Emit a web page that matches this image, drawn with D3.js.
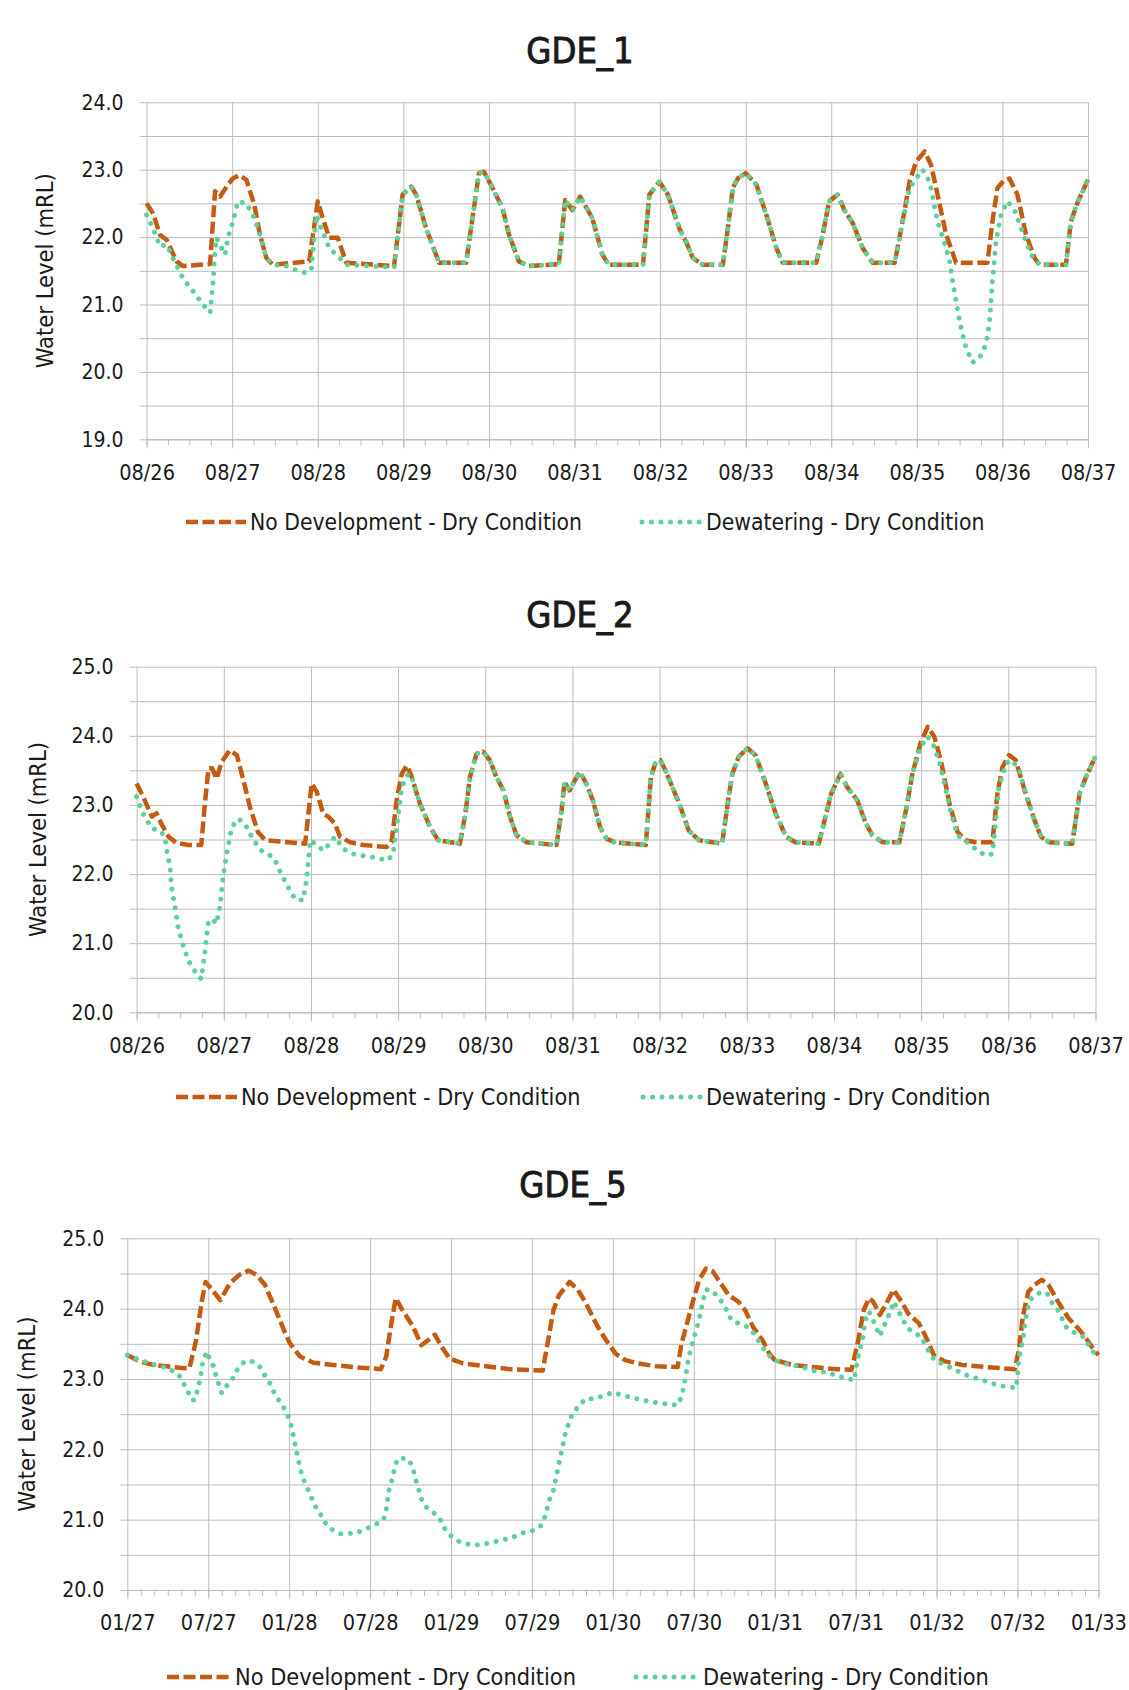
<!DOCTYPE html>
<html>
<head>
<meta charset="utf-8">
<script src="https://cdn.jsdelivr.net/npm/d3@7"></script>
<style>
  body { margin: 0; background: #fff; }
  svg text { font-family: "DejaVu Sans Condensed", "Liberation Sans", Arial, sans-serif; fill: #1a1a1a; }
</style>
</head>
<body>
<svg id="chart" width="1129" height="1690"></svg>
<script>
// x values are months since the first axis label, y values are water level (mRL)
const gde1Labels = ["08/26","08/27","08/28","08/29","08/30","08/31","08/32","08/33","08/34","08/35","08/36","08/37"];
const gde2Labels = gde1Labels;
const gde5Labels = ["01/27","07/27","01/28","07/28","01/29","07/29","01/30","07/30","01/31","07/31","01/32","07/32","01/33"];

const gde1NoDev = [[0,22.5],[0.9,22.35],[1.9,22.03],[2.8,21.96],[4.2,21.64],[5.1,21.57],[8.9,21.6],[9.6,22.68],[10.3,22.6],[11.4,22.78],[12.1,22.87],[13.0,22.92],[14.0,22.85],[15.1,22.48],[15.9,22.03],[16.8,21.69],[17.7,21.59],[22.8,21.64],[24.0,22.53],[24.7,22.28],[25.6,21.99],[26.8,21.99],[28.0,21.62],[34.7,21.57],[35.9,22.63],[37.1,22.75],[37.8,22.63],[39.2,22.13],[41.0,21.62],[44.8,21.62],[46.6,22.95],[47.3,22.97],[48.5,22.73],[49.9,22.43],[50.8,22.04],[52.2,21.64],[53.6,21.57],[57.8,21.6],[58.7,22.55],[59.7,22.4],[60.8,22.6],[62.5,22.28],[63.9,21.74],[64.8,21.59],[69.6,21.59],[70.5,22.63],[71.9,22.82],[73.1,22.63],[74.7,22.13],[75.6,21.94],[76.6,21.69],[78.0,21.59],[80.8,21.59],[81.5,22.13],[82.2,22.73],[82.9,22.87],[84.0,22.95],[85.5,22.78],[86.9,22.33],[88.3,21.84],[89.2,21.62],[93.9,21.62],[94.8,22.03],[95.7,22.53],[96.9,22.63],[97.8,22.41],[99.0,22.21],[100.4,21.84],[101.8,21.62],[104.9,21.62],[106.0,22.23],[107.0,22.83],[107.9,23.12],[109.1,23.27],[110.0,23.07],[110.9,22.63],[112.1,22.04],[113.5,21.62],[117.9,21.62],[118.6,22.23],[119.3,22.73],[120.3,22.85],[121.0,22.87],[122.1,22.63],[123.3,22.04],[124.5,21.69],[125.2,21.59],[128.9,21.59],[129.6,22.23],[130.6,22.53],[132,22.85]];

const gde1Dewater = [[0,22.33],[0.9,22.13],[1.9,21.86],[2.8,21.89],[3.7,21.69],[5.1,21.39],[6.5,21.2],[7.9,21.0],[8.9,20.88],[9.3,21.3],[9.6,21.79],[9.8,21.99],[10.5,21.84],[11.0,21.74],[11.4,21.99],[12.1,22.23],[12.8,22.53],[14.0,22.5],[15.1,22.28],[15.9,22.03],[16.8,21.69],[17.7,21.59],[19.6,21.57],[21.4,21.49],[22.4,21.47],[23.1,21.52],[23.8,22.33],[24.5,22.13],[25.6,21.84],[27.0,21.7],[28.0,21.59],[34.7,21.55],[35.9,22.63],[37.1,22.75],[37.8,22.63],[39.2,22.13],[41.0,21.62],[44.8,21.62],[46.6,22.95],[47.3,22.97],[48.5,22.73],[49.9,22.43],[50.8,22.04],[52.2,21.64],[53.6,21.57],[57.8,21.6],[58.7,22.55],[59.7,22.4],[60.8,22.6],[62.5,22.28],[63.9,21.74],[64.8,21.59],[69.6,21.59],[70.5,22.63],[71.9,22.82],[73.1,22.63],[74.7,22.13],[75.6,21.94],[76.6,21.69],[78.0,21.59],[80.8,21.59],[81.5,22.13],[82.2,22.73],[82.9,22.87],[84.0,22.95],[85.5,22.78],[86.9,22.33],[88.3,21.84],[89.2,21.62],[93.9,21.62],[94.8,22.03],[95.7,22.53],[96.9,22.63],[97.8,22.41],[99.0,22.21],[100.4,21.84],[101.8,21.62],[104.9,21.62],[106.0,22.23],[107.0,22.73],[107.9,22.87],[108.8,23.0],[109.8,22.82],[110.9,22.23],[112.1,21.84],[112.6,21.64],[113.0,21.35],[113.5,21.05],[114.2,20.65],[114.9,20.36],[115.8,20.14],[116.8,20.21],[117.7,20.41],[118.2,20.75],[118.6,21.35],[119.1,21.94],[119.8,22.33],[120.7,22.53],[121.7,22.4],[122.8,22.08],[124.0,21.74],[125.2,21.59],[128.9,21.59],[129.6,22.23],[130.6,22.53],[132,22.85]];

const gde2NoDev = [[0,23.31],[0.9,23.12],[2.1,22.83],[2.75,22.88],[3.4,22.73],[4.4,22.54],[5.5,22.45],[7.1,22.42],[8.9,22.42],[9.4,23.02],[9.9,23.53],[10.4,23.53],[11.0,23.38],[11.7,23.62],[12.8,23.79],[13.8,23.72],[14.7,23.36],[15.6,22.97],[16.7,22.61],[17.7,22.49],[23.2,22.44],[24.1,23.31],[24.8,23.19],[25.7,22.87],[26.4,22.83],[27.3,22.73],[28.0,22.54],[29.4,22.46],[31.2,22.42],[34.4,22.39],[35.1,22.46],[35.8,23.07],[36.5,23.45],[37.2,23.57],[37.8,23.43],[39.0,23.02],[40.4,22.68],[41.5,22.49],[44.5,22.44],[45.2,22.83],[45.9,23.41],[46.8,23.74],[47.7,23.77],[48.6,23.65],[49.5,23.41],[50.5,23.21],[51.4,22.83],[52.3,22.56],[53.7,22.46],[57.8,22.42],[58.5,22.92],[58.9,23.33],[59.6,23.21],[60.1,23.31],[61.0,23.48],[61.9,23.31],[62.8,23.07],[63.8,22.68],[64.7,22.51],[65.8,22.46],[70.1,22.42],[70.8,23.41],[71.4,23.6],[72.1,23.65],[72.8,23.5],[74.7,23.02],[76.0,22.63],[77.4,22.49],[80.6,22.44],[81.3,22.97],[82.0,23.45],[82.9,23.7],[84.1,23.82],[85.2,23.72],[86.6,23.31],[88.0,22.87],[89.4,22.54],[90.7,22.46],[93.9,22.44],[94.6,22.73],[95.6,23.16],[96.9,23.45],[97.8,23.26],[99.2,23.07],[100.4,22.73],[101.3,22.56],[102.7,22.46],[105.0,22.46],[105.9,22.92],[106.8,23.45],[107.9,23.89],[108.9,24.13],[109.8,23.99],[110.7,23.65],[111.9,23.02],[113.0,22.61],[114.1,22.49],[115.5,22.46],[117.8,22.46],[118.5,23.16],[119.2,23.55],[120.1,23.72],[121.0,23.65],[122.4,23.16],[123.6,22.78],[124.5,22.54],[125.6,22.46],[128.8,22.44],[129.8,23.16],[130.7,23.41],[132,23.7]];

const gde2Dewater = [[0,23.12],[0.9,22.87],[2.1,22.66],[3.2,22.63],[3.9,22.54],[4.1,22.37],[4.6,22.1],[4.8,21.81],[5.3,21.52],[5.7,21.23],[6.4,20.97],[7.1,20.75],[8.0,20.6],[8.9,20.48],[9.4,20.87],[9.9,21.33],[10.6,21.33],[11.0,21.28],[11.5,21.55],[11.9,21.96],[12.4,22.29],[13.1,22.68],[14.0,22.8],[14.9,22.73],[16.1,22.49],[17.2,22.34],[18.1,22.29],[19.0,22.22],[19.7,22.05],[20.6,21.86],[21.8,21.64],[22.9,21.62],[23.4,21.91],[23.9,22.49],[24.8,22.42],[25.7,22.34],[26.6,22.44],[27.3,22.54],[28.4,22.37],[29.8,22.29],[32.1,22.25],[33.5,22.22],[34.6,22.2],[35.3,22.29],[35.8,22.68],[36.5,23.26],[37.4,23.45],[37.8,23.43],[39.0,23.02],[40.4,22.68],[41.5,22.49],[44.5,22.44],[45.2,22.83],[45.9,23.41],[46.8,23.74],[47.7,23.77],[48.6,23.65],[49.5,23.41],[50.5,23.21],[51.4,22.83],[52.3,22.56],[53.7,22.46],[57.8,22.42],[58.5,22.92],[58.9,23.33],[59.6,23.21],[60.1,23.31],[61.0,23.48],[61.9,23.31],[62.8,23.07],[63.8,22.68],[64.7,22.51],[65.8,22.46],[70.1,22.42],[70.8,23.41],[71.4,23.6],[72.1,23.65],[72.8,23.5],[74.7,23.02],[76.0,22.63],[77.4,22.49],[80.6,22.44],[81.3,22.97],[82.0,23.45],[82.9,23.7],[84.1,23.82],[85.2,23.72],[86.6,23.31],[88.0,22.87],[89.4,22.54],[90.7,22.46],[93.9,22.44],[94.6,22.73],[95.6,23.16],[96.9,23.45],[97.8,23.26],[99.2,23.07],[100.4,22.73],[101.3,22.56],[102.7,22.46],[105.0,22.46],[105.9,22.92],[106.8,23.45],[107.9,23.84],[108.9,23.99],[109.8,23.84],[110.7,23.55],[111.9,22.97],[113.0,22.56],[114.6,22.44],[116.0,22.32],[116.9,22.27],[117.8,22.29],[118.2,22.68],[118.7,23.26],[119.7,23.6],[120.5,23.65],[121.5,23.5],[122.4,23.16],[123.6,22.78],[124.5,22.54],[125.6,22.46],[128.8,22.44],[129.8,23.16],[130.7,23.41],[132,23.7]];

const gde5NoDev = [[0,23.34],[0.9,23.25],[1.9,23.2],[2.9,23.18],[3.9,23.16],[4.6,23.15],[5.1,23.55],[5.5,24.08],[5.8,24.38],[6.4,24.24],[6.9,24.12],[7.6,24.36],[8.3,24.48],[9.0,24.54],[9.6,24.48],[10.2,24.34],[10.9,24.03],[11.6,23.7],[12.05,23.51],[12.8,23.32],[13.8,23.23],[15.3,23.2],[16.7,23.17],[18.8,23.14],[19.2,23.32],[19.5,23.7],[19.9,24.15],[20.4,23.98],[21.2,23.74],[21.8,23.48],[22.3,23.55],[22.8,23.63],[23.3,23.46],[23.9,23.29],[24.9,23.22],[26.6,23.18],[28.3,23.14],[30.8,23.12],[31.2,23.55],[31.6,23.98],[32.0,24.19],[32.8,24.38],[33.4,24.27],[34.0,24.08],[34.8,23.77],[35.5,23.55],[36.2,23.36],[36.9,23.27],[37.9,23.22],[39.2,23.18],[40.8,23.17],[41.1,23.51],[41.5,23.79],[41.9,24.08],[42.4,24.41],[42.9,24.57],[43.4,24.53],[44.0,24.36],[44.6,24.19],[45.3,24.1],[45.8,23.98],[46.4,23.74],[47.1,23.55],[47.6,23.36],[48.0,23.27],[49.3,23.2],[50.8,23.17],[52.5,23.14],[53.7,23.13],[54.2,23.55],[54.6,23.98],[55.0,24.15],[55.3,24.1],[55.8,23.91],[56.3,24.08],[56.8,24.27],[57.4,24.1],[57.9,23.93],[58.7,23.79],[59.2,23.6],[59.8,23.34],[60.6,23.25],[61.9,23.2],[63.6,23.17],[65.8,23.14],[66.1,23.41],[66.4,23.89],[66.8,24.24],[67.3,24.34],[67.8,24.41],[68.3,24.34],[69.0,24.1],[69.8,23.86],[70.5,23.72],[71.0,23.6],[71.5,23.46],[72,23.34]];

const gde5Dewater = [[0,23.34],[0.9,23.27],[1.9,23.21],[2.7,23.17],[3.2,23.13],[3.8,23.07],[4.1,22.96],[4.5,22.82],[4.8,22.7],[5.0,22.7],[5.2,22.84],[5.4,22.99],[5.6,23.25],[5.9,23.39],[6.1,23.29],[6.4,23.18],[6.6,23.03],[7.0,22.8],[7.4,22.91],[7.9,23.03],[8.2,23.15],[8.7,23.25],[9.3,23.25],[9.8,23.18],[10.2,23.05],[10.6,22.93],[10.9,22.8],[11.3,22.68],[11.7,22.56],[12.0,22.44],[12.2,22.3],[12.5,22.01],[12.8,21.74],[13.0,21.6],[13.3,21.47],[13.6,21.34],[13.9,21.2],[14.3,21.09],[14.6,20.97],[15.1,20.87],[15.8,20.8],[16.4,20.8],[17.1,20.82],[17.7,20.87],[18.3,20.92],[19.0,21.0],[19.2,21.14],[19.4,21.42],[19.6,21.55],[19.8,21.71],[20.0,21.85],[20.3,21.88],[20.9,21.85],[21.2,21.71],[21.4,21.56],[21.6,21.43],[21.8,21.3],[22.1,21.19],[22.7,21.1],[23.2,21.0],[23.5,20.88],[24.0,20.77],[24.6,20.69],[25.3,20.65],[25.9,20.64],[26.6,20.66],[27.3,20.69],[28.0,20.72],[28.7,20.76],[29.3,20.81],[30.0,20.84],[30.6,20.9],[30.9,21.0],[31.1,21.14],[31.3,21.28],[31.6,21.42],[31.9,21.7],[32.2,21.97],[32.5,22.25],[33.0,22.51],[33.5,22.62],[34.0,22.72],[34.6,22.72],[35.3,22.76],[36.0,22.81],[36.7,22.77],[37.3,22.74],[38.0,22.71],[38.7,22.68],[39.4,22.66],[40.1,22.64],[40.8,22.63],[41.1,22.75],[41.4,23.03],[41.6,23.29],[42.0,23.58],[42.4,23.85],[42.7,24.13],[42.9,24.27],[43.2,24.27],[43.7,24.19],[44.1,24.09],[44.5,23.96],[44.8,23.83],[45.5,23.78],[46.1,23.73],[46.6,23.61],[46.9,23.51],[47.3,23.4],[47.8,23.29],[48.5,23.23],[49.2,23.2],[49.9,23.18],[50.5,23.14],[51.2,23.1],[51.9,23.1],[52.5,23.05],[53.2,23.02],[53.9,22.98],[54.0,23.13],[54.3,23.42],[54.5,23.55],[54.7,23.83],[55.0,23.96],[55.2,23.88],[55.5,23.74],[55.8,23.61],[56.0,23.71],[56.3,23.84],[56.6,23.96],[56.8,24.1],[57.1,24.0],[57.4,23.88],[57.8,23.74],[58.2,23.67],[58.8,23.61],[59.2,23.48],[59.5,23.36],[59.9,23.26],[60.6,23.2],[61.3,23.14],[61.9,23.08],[62.5,23.03],[63.2,23.0],[63.9,22.95],[64.6,22.91],[65.2,22.89],[65.9,22.87],[66.0,23.03],[66.1,23.29],[66.4,23.55],[66.6,23.86],[66.9,24.12],[67.3,24.19],[67.7,24.23],[68.2,24.22],[68.5,24.1],[69.0,23.98],[69.6,23.74],[70.3,23.65],[70.9,23.6],[71.3,23.48],[71.6,23.39],[72,23.32]];

const gde1YTicks = d3.range(19, 24.01, 0.5);
const gde2YTicks = d3.range(20, 25.01, 0.5);
const gde5YTicks = d3.range(20, 25.01, 0.5);

const seriesNames = ["No Development - Dry Condition", "Dewatering - Dry Condition"];

const orange = "#C55A11";
const green = "#5CD19C";
const gridColor = "#bcbcbc";

const svg = d3.select("#chart");

function styleOrange(sel) {
  return sel.attr("fill", "none").attr("stroke", orange).attr("stroke-width", 4.5)
    .attr("stroke-dasharray", "12 4.5").attr("stroke-linejoin", "round");
}
function styleGreen(sel) {
  return sel.attr("fill", "none").attr("stroke", green).attr("stroke-width", 5)
    .attr("stroke-dasharray", "0.01 9.5").attr("stroke-linecap", "round").attr("stroke-linejoin", "round");
}

function drawChart(c) {
  const g = svg.append("g");
  const x = d3.scaleLinear().domain([0, c.months]).range([c.left, c.right]);
  const y = d3.scaleLinear().domain(c.yDomain).range([c.bottom, c.top]);
  const majors = d3.range(0, c.months + 0.01, c.majorStep);
  const minors = d3.range(0, c.months + 0.01, c.minorStep);

  // horizontal grid
  g.append("g").attr("transform", `translate(${c.left},0)`)
    .call(d3.axisLeft(y).tickValues(c.yTicks).tickSize(-(c.right - c.left)).tickFormat(""))
    .call(a => a.select(".domain").remove())
    .call(a => a.selectAll("line").attr("stroke", gridColor));

  // y labels with short outer ticks
  g.append("g").attr("transform", `translate(${c.left},0)`)
    .call(d3.axisLeft(y).tickValues(c.yTicks).tickSize(7).tickPadding(16)
      .tickFormat(d => Math.abs(d % 1) < 1e-6 ? d.toFixed(1) : ""))
    .call(a => a.select(".domain").remove())
    .call(a => a.selectAll("line").attr("stroke", gridColor))
    .call(a => a.selectAll("text").attr("font-size", 21).attr("fill", "#1a1a1a"));

  // vertical grid
  g.append("g").attr("transform", `translate(0,${c.bottom})`)
    .call(d3.axisBottom(x).tickValues(majors).tickSize(-(c.bottom - c.top)).tickFormat(""))
    .call(a => a.select(".domain").remove())
    .call(a => a.selectAll("line").attr("stroke", gridColor));

  // minor ticks
  g.append("g").attr("transform", `translate(0,${c.bottom})`)
    .call(d3.axisBottom(x).tickValues(minors).tickSize(6).tickFormat(""))
    .call(a => a.select(".domain").remove())
    .call(a => a.selectAll("line").attr("stroke", gridColor));

  // x axis with labels
  g.append("g").attr("transform", `translate(0,${c.bottom})`)
    .call(d3.axisBottom(x).tickValues(majors).tickSize(9).tickSizeOuter(0).tickPadding(16)
      .tickFormat((d, i) => c.xLabels[i]))
    .call(a => a.select(".domain").attr("stroke", gridColor))
    .call(a => a.selectAll("line").attr("stroke", gridColor))
    .call(a => a.selectAll("text").attr("font-size", 21.5).attr("fill", "#1a1a1a"));

  const line = d3.line().x(d => x(d[0])).y(d => y(d[1]));
  g.append("path").datum(c.noDev).attr("d", line).call(styleOrange);
  g.append("path").datum(c.dewater).attr("d", line).call(styleGreen);

  // title: regular weight with a light stroke, closer to the medium-weight original
  g.append("text").attr("x", c.titleX).attr("y", c.titleY)
    .attr("text-anchor", "middle").attr("font-size", 36)
    .attr("stroke", "#1a1a1a").attr("stroke-width", 0.9)
    .text(c.title);

  // y axis title
  g.append("text")
    .attr("transform", `translate(${c.yTitleX},${(c.top + c.bottom) / 2}) rotate(-90)`)
    .attr("text-anchor", "middle").attr("dy", "0.35em").attr("font-size", 23.5)
    .text("Water Level (mRL)");

  // legend
  const L = c.legend;
  g.append("line").attr("x1", L.o0).attr("x2", L.o1).attr("y1", L.y).attr("y2", L.y).call(styleOrange);
  g.append("text").attr("x", L.oText).attr("y", L.y).attr("dy", "0.35em")
    .attr("font-size", L.size).text(seriesNames[0]);
  g.append("line").attr("x1", L.g0).attr("x2", L.g1).attr("y1", L.y).attr("y2", L.y).call(styleGreen);
  g.append("text").attr("x", L.gText).attr("y", L.y).attr("dy", "0.35em")
    .attr("font-size", L.size).text(seriesNames[1]);
}

drawChart({
  title: "GDE_1", titleX: 580, titleY: 63,
  left: 146.6, right: 1088, top: 102.3, bottom: 439.3,
  yDomain: [19, 24], yTicks: gde1YTicks,
  months: 132, majorStep: 12, minorStep: 3, xLabels: gde1Labels,
  noDev: gde1NoDev, dewater: gde1Dewater, yTitleX: 45,
  legend: { y: 522, o0: 186, o1: 246, oText: 250, g0: 642, g1: 700, gText: 706, size: 22.7 }
});

drawChart({
  title: "GDE_2", titleX: 580, titleY: 627,
  left: 136.6, right: 1095.5, top: 666.7, bottom: 1012.3,
  yDomain: [20, 25], yTicks: gde2YTicks,
  months: 132, majorStep: 12, minorStep: 3, xLabels: gde2Labels,
  noDev: gde2NoDev, dewater: gde2Dewater, yTitleX: 38,
  legend: { y: 1097, o0: 176, o1: 237, oText: 241, g0: 643, g1: 701, gText: 706, size: 23.2 }
});

drawChart({
  title: "GDE_5", titleX: 573, titleY: 1197,
  left: 127.3, right: 1098.4, top: 1238.3, bottom: 1590,
  yDomain: [20, 25], yTicks: gde5YTicks,
  months: 72, majorStep: 6, minorStep: 1, xLabels: gde5Labels,
  noDev: gde5NoDev, dewater: gde5Dewater, yTitleX: 27,
  legend: { y: 1677, o0: 167, o1: 230, oText: 235, g0: 636, g1: 696, gText: 703, size: 23.3 }
});
</script>
</body>
</html>
